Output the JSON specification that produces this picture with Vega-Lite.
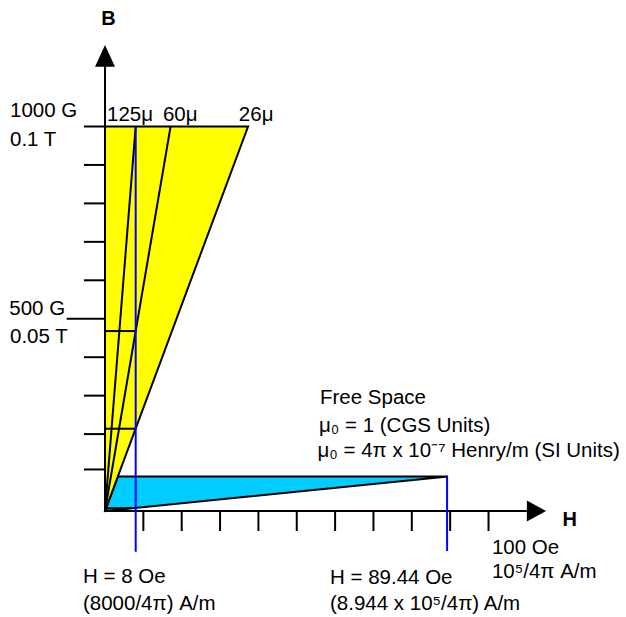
{
  "$schema": "https://vega.github.io/schema/vega-lite/v6.json",
  "width": 626,
  "height": 617,
  "autosize": "none",
  "padding": 0,
  "background": "white",
  "config": {"view": {"stroke": null}, "font": "Liberation Sans"},
  "datasets": {
    "black": [
      {"h1": 0, "b1": 0, "h2": 0, "b2": 1157},
      {"h1": 0, "b1": 0, "h2": 110, "b2": 0},
      {"h1": -5.5, "b1": 1000, "h2": 0, "b2": 1000},
      {"h1": -5.5, "b1": 900, "h2": 0, "b2": 900},
      {"h1": -5.5, "b1": 800, "h2": 0, "b2": 800},
      {"h1": -5.5, "b1": 700, "h2": 0, "b2": 700},
      {"h1": -5.5, "b1": 600, "h2": 0, "b2": 600},
      {"h1": -10, "b1": 500, "h2": 0, "b2": 500},
      {"h1": -5.5, "b1": 400, "h2": 0, "b2": 400},
      {"h1": -5.5, "b1": 300, "h2": 0, "b2": 300},
      {"h1": -5.5, "b1": 200, "h2": 0, "b2": 200},
      {"h1": -5.5, "b1": 108, "h2": 0, "b2": 108},
      {"h1": 10, "b1": 0, "h2": 10, "b2": -52},
      {"h1": 20, "b1": 0, "h2": 20, "b2": -52},
      {"h1": 30, "b1": 0, "h2": 30, "b2": -52},
      {"h1": 40, "b1": 0, "h2": 40, "b2": -52},
      {"h1": 50, "b1": 0, "h2": 50, "b2": -52},
      {"h1": 60, "b1": 0, "h2": 60, "b2": -52},
      {"h1": 70, "b1": 0, "h2": 70, "b2": -52},
      {"h1": 80, "b1": 0, "h2": 80, "b2": -52},
      {"h1": 90, "b1": 0, "h2": 90, "b2": -52},
      {"h1": 100, "b1": 0, "h2": 100, "b2": -52},
      {"h1": 0, "b1": 0, "h2": 8, "b2": 1000},
      {"h1": 0, "b1": 0, "h2": 17.1, "b2": 1000},
      {"h1": 0, "b1": 468, "h2": 8, "b2": 468},
      {"h1": 0, "b1": 214, "h2": 8, "b2": 214},
      {"h1": 0, "b1": 7, "h2": 7, "b2": 8}
    ],
    "blue": [
      {"h1": 8, "b1": 1000, "h2": 8, "b2": -106},
      {"h1": 89.2, "b1": 89.44, "h2": 89.2, "b2": -104}
    ],
    "yellow": [
      {"h": 0, "top": 1000, "bot": 0},
      {"h": 37.3, "top": 1000, "bot": 1000}
    ],
    "cyan": [
      {"h": 0, "top": 0, "bot": 0},
      {"h": 3.34, "top": 89.44, "bot": 3.34},
      {"h": 89.44, "top": 89.44, "bot": 89.44}
    ],
    "arrowUp": [
      {"h": -2.6, "top": 1155.5, "bot": 1155.5},
      {"h": 0, "top": 1212, "bot": 1155.5},
      {"h": 2.6, "top": 1155.5, "bot": 1155.5}
    ],
    "arrowRight": [
      {"b": -27.3, "tip": 110, "base": 110},
      {"b": 0, "tip": 115, "base": 110},
      {"b": 27.3, "tip": 110, "base": 110}
    ],
    "labels": [
      {"h": -24.77, "b": 1024.7, "label": "1000 G"},
      {"h": -24.77, "b": 949.3, "label": "0.1 T"},
      {"h": 0.52, "b": 1014.3, "label": "125μ"},
      {"h": 15.1, "b": 1014.3, "label": "60μ"},
      {"h": 34.9, "b": 1014.3, "label": "26μ"},
      {"h": -24.95, "b": 509.8, "label": "500 G"},
      {"h": -24.77, "b": 436.9, "label": "0.05 T"},
      {"h": 56.06, "b": 277.5, "label": "Free Space"},
      {"h": 55.8, "b": 205.5, "label": "μ₀ = 1 (CGS Units)"},
      {"h": 55.4, "b": 140.4, "label": "μ₀ = 4π x 10⁻⁷ Henry/m (SI Units)"},
      {"h": -5.74, "b": -187.3, "label": "H = 8 Oe"},
      {"h": -5.74, "b": -257.5, "label": "(8000/4π) A/m"},
      {"h": 58.67, "b": -189.9, "label": "H = 89.44 Oe"},
      {"h": 58.67, "b": -257.5, "label": "(8.944 x 10⁵/4π) A/m"},
      {"h": 100.9, "b": -111.8, "label": "100 Oe"},
      {"h": 100.9, "b": -174.3, "label": "10⁵/4π A/m"}
    ],
    "bold": [
      {"h": -0.95, "b": 1264, "label": "B"},
      {"h": 119.3, "b": -39, "label": "H"}
    ]
  },
  "layer": [
    {
      "data": {"name": "cyan"},
      "mark": {"type": "area", "fill": "#00CCFF", "stroke": "black", "strokeWidth": 2},
      "encoding": {
        "x": {"field": "h", "type": "quantitative", "scale": {"domain": [-27.38, 135.85], "nice": false, "zero": false}, "axis": null},
        "y": {"field": "top", "type": "quantitative", "scale": {"domain": [-275.7, 1329], "nice": false, "zero": false}, "axis": null},
        "y2": {"field": "bot"}
      }
    },
    {
      "data": {"name": "yellow"},
      "mark": {"type": "area", "fill": "#FFFF00", "stroke": "black", "strokeWidth": 2},
      "encoding": {
        "x": {"field": "h", "type": "quantitative", "scale": {"domain": [-27.38, 135.85], "nice": false, "zero": false}, "axis": null},
        "y": {"field": "top", "type": "quantitative", "scale": {"domain": [-275.7, 1329], "nice": false, "zero": false}, "axis": null},
        "y2": {"field": "bot"}
      }
    },
    {
      "data": {"name": "black"},
      "mark": {"type": "rule", "color": "black", "strokeWidth": 2},
      "encoding": {
        "x": {"field": "h1", "type": "quantitative", "scale": {"domain": [-27.38, 135.85], "nice": false, "zero": false}, "axis": null},
        "x2": {"field": "h2"},
        "y": {"field": "b1", "type": "quantitative", "scale": {"domain": [-275.7, 1329], "nice": false, "zero": false}, "axis": null},
        "y2": {"field": "b2"}
      }
    },
    {
      "data": {"name": "arrowUp"},
      "mark": {"type": "area", "fill": "black"},
      "encoding": {
        "x": {"field": "h", "type": "quantitative", "scale": {"domain": [-27.38, 135.85], "nice": false, "zero": false}, "axis": null},
        "y": {"field": "top", "type": "quantitative", "scale": {"domain": [-275.7, 1329], "nice": false, "zero": false}, "axis": null},
        "y2": {"field": "bot"}
      }
    },
    {
      "data": {"name": "arrowRight"},
      "mark": {"type": "area", "fill": "black", "orient": "horizontal"},
      "encoding": {
        "y": {"field": "b", "type": "quantitative", "scale": {"domain": [-275.7, 1329], "nice": false, "zero": false}, "axis": null},
        "x": {"field": "tip", "type": "quantitative", "scale": {"domain": [-27.38, 135.85], "nice": false, "zero": false}, "axis": null},
        "x2": {"field": "base"}
      }
    },
    {
      "data": {"name": "blue"},
      "mark": {"type": "rule", "color": "#0000FF", "strokeWidth": 2},
      "encoding": {
        "x": {"field": "h1", "type": "quantitative", "scale": {"domain": [-27.38, 135.85], "nice": false, "zero": false}, "axis": null},
        "x2": {"field": "h2"},
        "y": {"field": "b1", "type": "quantitative", "scale": {"domain": [-275.7, 1329], "nice": false, "zero": false}, "axis": null},
        "y2": {"field": "b2"}
      }
    },
    {
      "data": {"name": "labels"},
      "mark": {"type": "text", "align": "left", "baseline": "alphabetic", "fontSize": 20.5, "font": "Liberation Sans", "color": "black"},
      "encoding": {
        "x": {"field": "h", "type": "quantitative", "scale": {"domain": [-27.38, 135.85], "nice": false, "zero": false}, "axis": null},
        "y": {"field": "b", "type": "quantitative", "scale": {"domain": [-275.7, 1329], "nice": false, "zero": false}, "axis": null},
        "text": {"field": "label"}
      }
    },
    {
      "data": {"name": "bold"},
      "mark": {"type": "text", "align": "left", "baseline": "alphabetic", "fontSize": 20, "fontWeight": "bold", "font": "Liberation Sans", "color": "black"},
      "encoding": {
        "x": {"field": "h", "type": "quantitative", "scale": {"domain": [-27.38, 135.85], "nice": false, "zero": false}, "axis": null},
        "y": {"field": "b", "type": "quantitative", "scale": {"domain": [-275.7, 1329], "nice": false, "zero": false}, "axis": null},
        "text": {"field": "label"}
      }
    }
  ]
}
